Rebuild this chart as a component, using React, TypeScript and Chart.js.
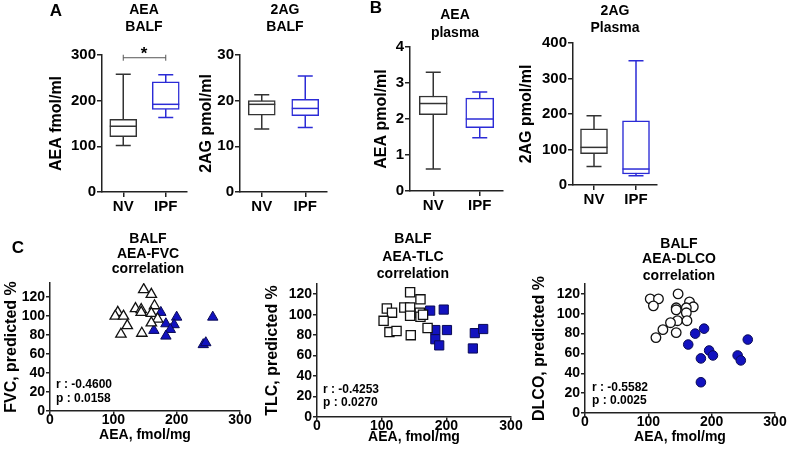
import React, { useEffect, useRef } from 'react';
import { Chart, registerables } from 'chart.js';
Chart.register(...registerables);

const W = 787;
const H = 456;
const FONT = "'Liberation Sans', Arial, Helvetica, sans-serif";
Chart.defaults.font.family = FONT;
Chart.defaults.color = '#000';

// ---------- data ----------
const groups = ['NV', 'IPF'];
// box stats: [min, q1, median, q3, max]
const aeaBalfNV = [102, 121, 144, 159, 258];
const aeaBalfIPF = [163, 181, 192, 241, 257];
const aeaBalfSigLevel = 294;
const ag2BalfNV = [13.8, 16.8, 19.2, 20.0, 21.3];
const ag2BalfIPF = [14.1, 16.7, 18.3, 20.3, 25.4];
const aeaPlasmaNV = [0.61, 2.12, 2.43, 2.64, 3.3];
const aeaPlasmaIPF = [1.48, 1.76, 2.0, 2.58, 2.75];
const ag2PlasmaNV = [52, 88, 106, 158, 195];
const ag2PlasmaIPF = [26, 31, 45, 181, 350];

// scatter: AEA (fmol/mg) vs predicted %
const pctTickMax = 120;
const fvcNvAea = [148, 160, 107, 103, 116, 122, 112, 135, 144, 144, 165, 160, 170, 160, 145];
const fvcNvPct = [128, 123, 104, 100, 100, 90, 81, 108, 107, 104, 111, 103, 97, 93, 82];
const fvcIpfAea = [175, 200, 183, 196, 190, 164, 183, 242, 246, 257];
const fvcIpfPct = [104, 99, 92, 91, 86, 85, 79, 70, 72, 99];

const tlcNvAea = [144, 160, 108, 116, 103, 112, 123, 135, 144, 144, 145, 159, 160, 164, 171];
const tlcNvPct = [122, 115, 106, 102, 94, 83, 84, 107, 107, 99, 80, 102, 98, 100, 87];
const tlcIpfAea = [162, 175, 196, 183, 201, 183, 189, 244, 257, 241];
const tlcIpfPct = [100, 104, 105, 85, 85, 76, 70, 82, 86, 67];

const dlcoNvAea = [147, 103, 116, 108, 165, 171, 144, 144, 160, 160, 146, 161, 135, 123, 112, 144];
const dlcoNvPct = [120, 115, 115, 108, 112, 107, 106, 104, 106, 101, 93, 93, 91, 84, 76, 81];
const dlcoIpfAea = [188, 174, 163, 196, 202, 183, 241, 246, 257, 183];
const dlcoIpfPct = [85, 80, 69, 63, 58, 55, 58, 53, 74, 31];

// ---------- styles ----------
const AXIS = '#222';
const NV_COLOR = '#333333';
const IPF_COLOR = '#2b2bd6';
const FILL_BLUE = '#1212bf';

function layout(chartL: number, chartR: number, top: number, bottom: number, yTitleX: number, yTitleSize: number, xH: number) {
  const padL = Math.round(yTitleX - (yTitleSize * 1.2) / 2);
  return {
    padding: { left: padL, right: W - chartR, top, bottom: H - bottom - xH },
    yW: chartL - padL,
    xH,
  };
}

function axisCommon(tickLength: number) {
  return {
    grid: { drawOnChartArea: false, drawTicks: true, tickLength, color: AXIS, lineWidth: 1.5 },
    border: { display: true, color: AXIS, width: 1.5 },
  };
}

function whiskerPlugin(stats: number[][], colors: string[], capW: number) {
  return {
    id: 'whiskers',
    beforeDatasetsDraw(chart: any) {
      const ctx = chart.ctx;
      const ys = chart.scales.y;
      const meta = chart.getDatasetMeta(0);
      meta.data.forEach((el: any, i: number) => {
        const s = stats[i];
        const x = el.x;
        ctx.save();
        ctx.strokeStyle = colors[i];
        ctx.lineWidth = 1.5;
        ctx.beginPath();
        ctx.moveTo(x, ys.getPixelForValue(s[0]));
        ctx.lineTo(x, ys.getPixelForValue(s[4]));
        [s[0], s[4]].forEach((v) => {
          const py = ys.getPixelForValue(v);
          ctx.moveTo(x - capW / 2, py);
          ctx.lineTo(x + capW / 2, py);
        });
        ctx.stroke();
        ctx.restore();
      });
    },
    afterDatasetsDraw(chart: any) {
      const ctx = chart.ctx;
      const ys = chart.scales.y;
      const meta = chart.getDatasetMeta(0);
      meta.data.forEach((el: any, i: number) => {
        const py = ys.getPixelForValue(stats[i][2]);
        ctx.save();
        ctx.strokeStyle = colors[i];
        ctx.lineWidth = 1.5;
        ctx.beginPath();
        ctx.moveTo(el.x - el.width / 2, py);
        ctx.lineTo(el.x + el.width / 2, py);
        ctx.stroke();
        ctx.restore();
      });
    },
  };
}

function bracketPlugin(level: number) {
  return {
    id: 'bracket',
    afterDatasetsDraw(chart: any) {
      const ctx = chart.ctx;
      const ys = chart.scales.y;
      const meta = chart.getDatasetMeta(0);
      const x1 = meta.data[0].x;
      const x2 = meta.data[1].x;
      const py = ys.getPixelForValue(level);
      ctx.save();
      ctx.strokeStyle = '#555';
      ctx.lineWidth = 1;
      ctx.beginPath();
      ctx.moveTo(x1, py);
      ctx.lineTo(x2, py);
      ctx.moveTo(x1, py - 3);
      ctx.lineTo(x1, py + 3);
      ctx.moveTo(x2, py - 3);
      ctx.lineTo(x2, py + 3);
      ctx.stroke();
      ctx.restore();
    },
  };
}

interface BoxPanel {
  nv: number[];
  ipf: number[];
  yMax: number;
  step: number;
  yTitle: string;
  lay: ReturnType<typeof layout>;
  boxW: number;
  sig?: number;
}

function boxConfig(p: BoxPanel): any {
  const stats = [p.nv, p.ipf];
  const colors = [NV_COLOR, IPF_COLOR];
  const plugins: any[] = [whiskerPlugin(stats, colors, 15)];
  if (p.sig !== undefined) plugins.push(bracketPlugin(p.sig));
  return {
    type: 'bar',
    data: {
      labels: groups,
      datasets: [
        {
          data: stats.map((s) => [s[1], s[3]]),
          backgroundColor: '#ffffff',
          borderColor: colors,
          borderWidth: 1.5,
          borderSkipped: false,
          barThickness: p.boxW,
        },
      ],
    },
    options: {
      responsive: false,
      animation: false,
      events: [],
      layout: { padding: p.lay.padding },
      plugins: { legend: { display: false }, tooltip: { enabled: false } },
      scales: {
        x: {
          type: 'category',
          offset: true,
          ...axisCommon(5),
          grid: { offset: false, drawOnChartArea: false, drawTicks: true, tickLength: 5, color: AXIS, lineWidth: 1.5 },
          ticks: { font: { size: 15, weight: 'bold', lineHeight: 1 }, padding: 2, color: '#000' },
          afterFit: (s: any) => {
            s.height = p.lay.xH;
          },
        },
        y: {
          min: 0,
          max: p.yMax,
          bounds: 'data',
          ...axisCommon(5),
          ticks: { stepSize: p.step, autoSkip: false, maxTicksLimit: 30, font: { size: 15, weight: 'bold' }, padding: 1, color: '#000' },
          title: { display: true, text: p.yTitle, font: { size: 16, weight: 'bold' }, padding: 0, color: '#000' },
          afterFit: (s: any) => {
            s.width = p.lay.yW;
          },
        },
      },
    },
    plugins,
  };
}

interface ScatterPanel {
  nvX: number[];
  nvY: number[];
  ipfX: number[];
  ipfY: number[];
  yMax: number;
  yTitle: string;
  style: string;
  radius: number;
  lay: ReturnType<typeof layout>;
}

function scatterConfig(p: ScatterPanel): any {
  return {
    type: 'scatter',
    data: {
      datasets: [
        {
          data: p.nvX.map((x, i) => ({ x, y: p.nvY[i] })),
          pointStyle: p.style,
          pointRadius: p.radius,
          backgroundColor: '#ffffff',
          borderColor: '#111',
          borderWidth: 1.3,
        },
        {
          data: p.ipfX.map((x, i) => ({ x, y: p.ipfY[i] })),
          pointStyle: p.style,
          pointRadius: p.radius,
          backgroundColor: FILL_BLUE,
          borderColor: '#0a0a55',
          borderWidth: 1,
        },
      ],
    },
    options: {
      responsive: false,
      animation: false,
      events: [],
      layout: { padding: p.lay.padding },
      plugins: { legend: { display: false }, tooltip: { enabled: false } },
      scales: {
        x: {
          type: 'linear',
          min: 0,
          max: 300,
          bounds: 'data',
          ...axisCommon(3),
          ticks: { stepSize: 100, autoSkip: false, font: { size: 14, weight: 'bold', lineHeight: 1 }, padding: -1, color: '#000' },
          title: { display: true, text: 'AEA, fmol/mg', font: { size: 14, weight: 'bold' }, padding: 0, color: '#000' },
          afterFit: (s: any) => {
            s.height = p.lay.xH;
          },
        },
        y: {
          min: 0,
          max: p.yMax,
          bounds: 'data',
          ...axisCommon(4),
          ticks: { stepSize: 20, autoSkip: false, maxTicksLimit: 30, font: { size: 14, weight: 'bold', lineHeight: 1 }, padding: 1, color: '#000' },
          afterBuildTicks: (s: any) => {
            s.ticks = s.ticks.filter((t: any) => t.value <= pctTickMax);
          },
          title: { display: true, text: p.yTitle, font: { size: 16, weight: 'bold' }, padding: 0, color: '#000' },
          afterFit: (s: any) => {
            s.width = p.lay.yW;
          },
        },
      },
    },
  };
}

const configs: any[] = [
  boxConfig({ nv: aeaBalfNV, ipf: aeaBalfIPF, yMax: 300, step: 100, yTitle: 'AEA fmol/ml', lay: layout(102, 187, 55, 192, 57, 16, 30), boxW: 27, sig: aeaBalfSigLevel }),
  boxConfig({ nv: ag2BalfNV, ipf: ag2BalfIPF, yMax: 30, step: 10, yTitle: '2AG pmol/ml', lay: layout(240, 327, 55, 192, 207, 16, 30), boxW: 27 }),
  boxConfig({ nv: aeaPlasmaNV, ipf: aeaPlasmaIPF, yMax: 4, step: 1, yTitle: 'AEA pmol/ml', lay: layout(410, 503, 47, 191, 382, 16, 30), boxW: 28 }),
  boxConfig({ nv: ag2PlasmaNV, ipf: ag2PlasmaIPF, yMax: 400, step: 100, yTitle: '2AG pmol/ml', lay: layout(573, 657, 43, 185, 527, 16, 30), boxW: 27 }),
  scatterConfig({ nvX: fvcNvAea, nvY: fvcNvPct, ipfX: fvcIpfAea, ipfY: fvcIpfPct, yMax: 135, yTitle: 'FVC, predicted %', style: 'triangle', radius: 6, lay: layout(50, 240, 283, 411, 12, 16, 33) }),
  scatterConfig({ nvX: tlcNvAea, nvY: tlcNvPct, ipfX: tlcIpfAea, ipfY: tlcIpfPct, yMax: 130, yTitle: 'TLC, predicted %', style: 'rect', radius: 6.5, lay: layout(317, 511, 284, 417, 273, 16, 29) }),
  scatterConfig({ nvX: dlcoNvAea, nvY: dlcoNvPct, ipfX: dlcoIpfAea, ipfY: dlcoIpfPct, yMax: 130, yTitle: 'DLCO, predicted %', style: 'circle', radius: 4.8, lay: layout(585, 775, 284, 413, 540, 16, 33) }),
];

function ChartCanvas({ config }: { config: any }) {
  const ref = useRef<HTMLCanvasElement>(null);
  useEffect(() => {
    const chart = new Chart(ref.current as HTMLCanvasElement, config);
    return () => chart.destroy();
  }, [config]);
  return <canvas ref={ref} width={W} height={H} style={{ position: 'absolute', left: 0, top: 0, width: W, height: H }} />;
}

function Txt({ x, y, size = 14, align = 'center', children }: { x: number; y: number; size?: number; align?: string; children: React.ReactNode }) {
  return (
    <div
      style={{
        position: 'absolute',
        left: x,
        top: y,
        transform: align === 'center' ? 'translate(-50%, -50%)' : 'translate(0, -50%)',
        fontFamily: FONT,
        fontWeight: 'bold',
        fontSize: size,
        lineHeight: 1,
        whiteSpace: 'nowrap',
        color: '#000',
      }}
    >
      {children}
    </div>
  );
}

const titleLines: [number, number, string][] = [
  [144, 9, 'AEA'], [144, 26, 'BALF'],
  [285, 9, '2AG'], [285, 26, 'BALF'],
  [455, 14, 'AEA'], [455, 32, 'plasma'],
  [615, 10, '2AG'], [615, 27, 'Plasma'],
  [148, 238, 'BALF'], [148, 253, 'AEA-FVC'], [148, 268, 'correlation'],
  [413, 238, 'BALF'], [413, 256, 'AEA-TLC'], [413, 273, 'correlation'],
  [679, 243, 'BALF'], [679, 258, 'AEA-DLCO'], [679, 275, 'correlation'],
];

const statLines: [number, number, string][] = [
  [56, 384, 'r : -0.4600'], [56, 398, 'p : 0.0158'],
  [323, 389, 'r : -0.4253'], [323, 402, 'p : 0.0270'],
  [592, 387, 'r : -0.5582'], [592, 400, 'p : 0.0025'],
];

export default function App() {
  return (
    <div style={{ position: 'absolute', left: 0, top: 0, width: W, height: H, background: '#fff', overflow: 'hidden' }}>
      {configs.map((c, i) => (
        <ChartCanvas key={i} config={c} />
      ))}
      <Txt x={56} y={10} size={17}>A</Txt>
      <Txt x={376} y={7} size={17}>B</Txt>
      <Txt x={18} y={247} size={17}>C</Txt>
      <Txt x={144} y={53} size={17}>*</Txt>
      {titleLines.map(([x, y, t], i) => (
        <Txt key={'t' + i} x={x} y={y} size={14}>{t}</Txt>
      ))}
      {statLines.map(([x, y, t], i) => (
        <Txt key={'s' + i} x={x} y={y} size={12} align="left">{t}</Txt>
      ))}
    </div>
  );
}
